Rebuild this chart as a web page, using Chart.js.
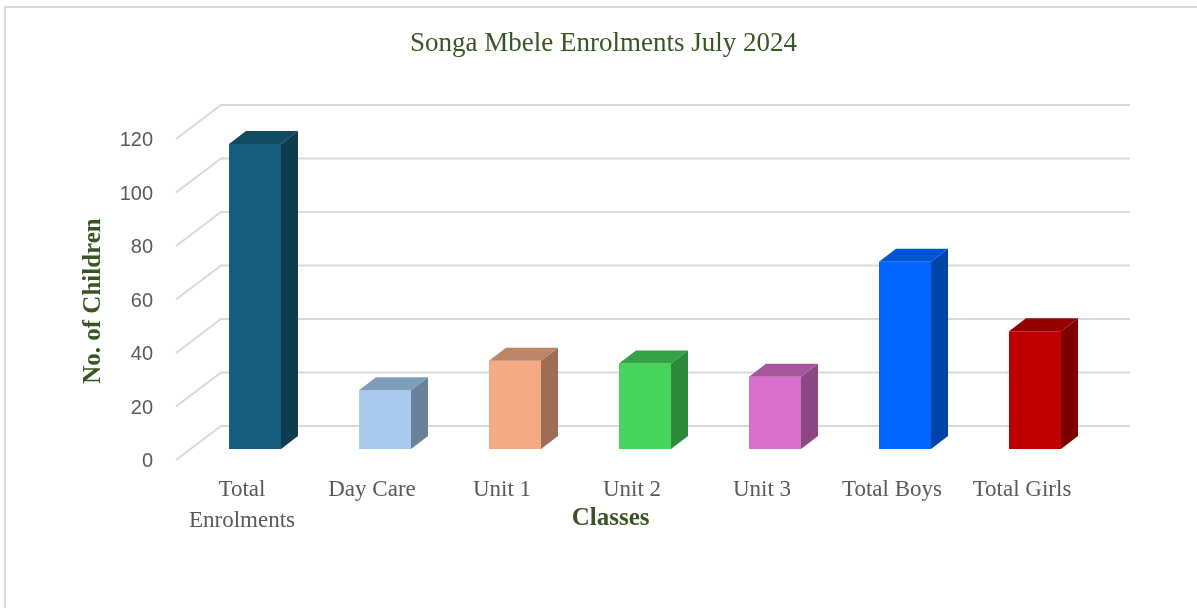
<!DOCTYPE html>
<html><head><meta charset="utf-8">
<script src="https://cdn.jsdelivr.net/npm/chart.js@4.4.1/dist/chart.umd.min.js"></script>
<style>
html,body{margin:0;padding:0;background:#fff;}
#wrap{position:relative;width:1197px;height:608px;overflow:hidden;background:#fff;}
#frame{position:absolute;left:4px;top:6px;width:1300px;height:800px;border:2px solid #d9d9d9;}
canvas{position:absolute;left:0;top:0;}
</style></head>
<body><div id="wrap"><div id="frame"></div><canvas id="c" width="1197" height="608"></canvas></div>
<script>
// ---- data ----
const categories = [['Total', 'Enrolments'], 'Day Care', 'Unit 1', 'Unit 2', 'Unit 3', 'Total Boys', 'Total Girls'];
const enrolments = [114, 22, 33, 32, 27, 70, 44];
const yTicks = [0, 20, 40, 60, 80, 100, 120];
const chartTitle = 'Songa Mbele Enrolments July 2024';
const yTitle = 'No. of Children';
const xTitle = 'Classes';

// ---- styles ----
const frontColors = ['#165E7E', '#A8CAEC', '#F3AA85', '#47D45A', '#D870CB', '#0066FF', '#C00000'];
const sideColors  = ['#0E3C50', '#6B8199', '#9E6D55', '#2D8A3A', '#8B4883', '#0044AA', '#7C0000'];
const topColors   = ['#114A63', '#7F9CBA', '#BC8567', '#33A145', '#A6569C', '#0055D6', '#950000'];
const GREEN = '#375623';
const GRAY = '#595959';
const DEPTH = {dx: 17, dy: -13};
const WALL = {backDy: -23, backLeft: 31, frontLeft: -14, backRight: 30, diagDy: 34};

const threeD = {
  id: 'threeD',
  beforeDatasetsDraw(chart) {
    const {ctx, chartArea: a, scales: {y}} = chart;
    ctx.save();
    ctx.strokeStyle = '#d9d9d9';
    ctx.lineWidth = 2;
    y.ticks.forEach(t => {
      const yb = y.getPixelForValue(t.value) + WALL.backDy;
      ctx.beginPath();
      ctx.moveTo(a.left + WALL.frontLeft, yb + WALL.diagDy);
      ctx.lineTo(a.left + WALL.backLeft, yb);
      ctx.lineTo(a.right + WALL.backRight, yb);
      ctx.stroke();
    });
    ctx.restore();
  },
  afterDatasetsDraw(chart) {
    const ctx = chart.ctx;
    const meta = chart.getDatasetMeta(0);
    ctx.save();
    meta.data.forEach((bar, i) => {
      const {x, y, base, width} = bar.getProps(['x', 'y', 'base', 'width'], true);
      const l = x - width / 2, r = x + width / 2;
      ctx.fillStyle = sideColors[i];
      ctx.beginPath();
      ctx.moveTo(r, y); ctx.lineTo(r + DEPTH.dx, y + DEPTH.dy);
      ctx.lineTo(r + DEPTH.dx, base + DEPTH.dy); ctx.lineTo(r, base);
      ctx.closePath(); ctx.fill();
      ctx.fillStyle = topColors[i];
      ctx.beginPath();
      ctx.moveTo(l, y); ctx.lineTo(l + DEPTH.dx, y + DEPTH.dy);
      ctx.lineTo(r + DEPTH.dx, y + DEPTH.dy); ctx.lineTo(r, y);
      ctx.closePath(); ctx.fill();
    });
    ctx.restore();
  }
};

new Chart(document.getElementById('c'), {
  type: 'bar',
  data: {
    labels: categories,
    datasets: [{
      data: enrolments,
      backgroundColor: frontColors,
      borderWidth: 0,
      categoryPercentage: 1,
      barPercentage: 0.4
    }]
  },
  plugins: [threeD],
  options: {
    responsive: false,
    animation: false,
    devicePixelRatio: 1,
    layout: {padding: {left: 10, right: 0, top: 0, bottom: 64}},
    plugins: {
      legend: {display: false},
      tooltip: {enabled: false},
      title: {
        display: true,
        text: chartTitle,
        color: GREEN,
        font: {family: '"Liberation Serif", serif', size: 27, weight: 'normal'},
        padding: {top: 28, bottom: 67.6}
      }
    },
    scales: {
      x: {
        grid: {display: false},
        border: {display: false},
        ticks: {
          color: GRAY,
          padding: 17,
          labelOffset: -13,
          maxRotation: 0,
          autoSkip: false,
          font: {family: '"Liberation Serif", serif', size: 23, lineHeight: 1.37}
        },
        title: {
          display: true,
          text: xTitle + '\u00a0'.repeat(11),
          color: GREEN,
          font: {family: '"Liberation Serif", serif', size: 25, weight: 'bold'},
          padding: {top: 0, bottom: 10}
        },
        afterFit: s => { s.height = 95; }
      },
      y: {
        min: 0,
        max: 120,
        afterBuildTicks: s => { s.ticks = yTicks.map(v => ({value: v})); },
        grid: {display: false, drawTicks: false},
        border: {display: false},
        ticks: {
          color: GRAY,
          padding: 37,
          labelOffset: 12.5,
          font: {family: '"Liberation Sans", Arial, sans-serif', size: 20}
        },
        title: {
          display: true,
          text: yTitle + '\u00a0'.repeat(4),
          color: GREEN,
          font: {family: '"Liberation Serif", serif', size: 25, weight: 'bold'},
          padding: {top: 69, bottom: 0}
        },
        afterFit: s => { s.width = 180; }
      },
      yRight: {
        position: 'right',
        min: 0,
        max: 1,
        grid: {display: false},
        border: {display: false},
        ticks: {display: false},
        afterFit: s => { s.width = 97; }
      }
    }
  }
});
</script>
</body></html>
